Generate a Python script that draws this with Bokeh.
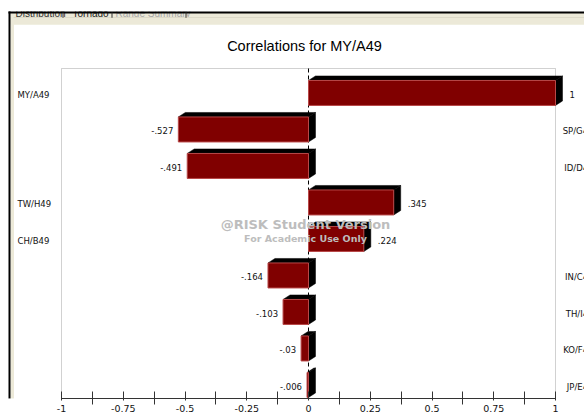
from bokeh.plotting import figure
from bokeh.models import (ColumnDataSource, Range1d, FixedTicker, LabelSet,
                          BoxAnnotation)
from bokeh.core.properties import value
from bokeh.embed import file_html
from bokeh.resources import INLINE

# Inputs correlated with the output, ordered by strength of correlation
INPUT_NAMES = ["MY/A49", "SP/G49", "ID/D49", "TW/H49", "CH/B49",
               "IN/C49", "TH/I49", "KO/F49", "JP/E49"]
CORRELATIONS = [1.0, -0.527, -0.491, 0.345, 0.224, -0.164, -0.103, -0.03, -0.006]
OUTPUT_NAME = "MY/A49"

TICKS = [-1, -0.75, -0.5, -0.25, 0, 0.25, 0.5, 0.75, 1]
TICK_LABELS = ["-1", "-0.75", "-0.5", "-0.25", "0", "0.25", "0.5", "0.75", "1"]
MINOR_TICKS = [-0.875, -0.625, -0.375, -0.125, 0.125, 0.375, 0.625, 0.875]

TAB_NAMES = ["Distribution", "Tornado", "Range Summary"]

# ---- geometry (canvas pixels) ----
W, H = 584, 420
PL, PR, PT, PB = 61, 555, 68, 398          # edges of the chart box
X0, X1 = -1.0, 1.0                         # correlation scale across the box
ROW_PX = 36.5                              # pixel pitch of one category row
Y_TOP = -0.67                              # row coordinate at the box top


def cx(px):
    return X0 + (px - PL) * (X1 - X0) / (PR - PL)


def cy(py):
    return Y_TOP + (py - PT) / ROW_PX


def dx(px):
    return px * (X1 - X0) / (PR - PL)


def dy(py):
    return py / ROW_PX


def fmt(v):
    s = f"{v:.3f}".rstrip("0").rstrip(".")
    return s.replace("0.", ".", 1) if abs(v) < 1 else s


# the data frame spans the whole canvas above the axis, so that the side
# labels, the title and the window strip can be drawn in data space
p = figure(width=W, height=H, output_backend="svg", toolbar_location=None,
           x_range=Range1d(cx(0), cx(W)), y_range=Range1d(cy(PB), cy(0)),
           y_axis_location=None, min_border=0, min_border_left=0,
           min_border_right=0, min_border_top=0, min_border_bottom=H - PB)
p.xgrid.visible = False
p.ygrid.visible = False
p.background_fill_color = "white"
p.border_fill_color = "white"
p.outline_line_color = None

ax = p.xaxis[0]
ax.bounds = (X0, X1)
ax.ticker = FixedTicker(ticks=TICKS, minor_ticks=MINOR_TICKS)
ax.major_label_overrides = {t: s for t, s in zip(TICKS, TICK_LABELS)}
ax.axis_line_color = "#333333"
ax.major_tick_line_color = "#333333"
ax.minor_tick_line_color = "#333333"
ax.major_tick_in = 7
ax.major_tick_out = 2
ax.minor_tick_in = 7
ax.minor_tick_out = 6
ax.major_label_standoff = 0
ax.major_label_text_font = "DejaVu Sans"
ax.major_label_text_font_size = "9.5px"
ax.major_label_text_color = "#111111"

box_top, box_bottom = cy(PT), cy(PB)


def box(l, r, t, b, color, level="overlay"):
    p.add_layout(BoxAnnotation(left=cx(l), right=cx(r), top=cy(t), bottom=cy(b),
                               fill_color=color, fill_alpha=1.0,
                               line_color=None, level=level))


def canvas_box(l, r, t, b, color):
    p.add_layout(BoxAnnotation(left=l, right=r, top=t, bottom=b,
                               left_units="canvas", right_units="canvas",
                               top_units="canvas", bottom_units="canvas",
                               fill_color=color, fill_alpha=1.0,
                               line_color=None, level="overlay"))


def text_at(px, py, text, font, size, color, align="left", style="normal",
            level="annotation"):
    src = ColumnDataSource(dict(x=[cx(px)], y=[cy(py)], t=[text]))
    p.add_layout(LabelSet(x="x", y="y", text="t", source=src, level=level,
                          text_font=value(font), text_font_size=value(size),
                          text_font_style=value(style), text_color=value(color),
                          text_align=value(align), text_baseline=value("alphabetic")))


# window background strips (beneath everything)
box(10, W, 12, 24, "#ece9d8", level="underlay")
box(10, 13.5, 12, PB, "#ece9d8", level="underlay")

# chart box
p.add_layout(BoxAnnotation(left=X0, right=X1, top=box_top, bottom=box_bottom,
                           fill_color=None, line_color="#666666", line_width=1,
                           level="underlay"))
# dashed zero line behind the bars
p.segment(x0=[0], y0=[box_top], x1=[0], y1=[box_bottom], line_color="black",
          line_dash="4 3", line_width=1)

# ---- 3-D bars ----
rows = list(range(len(CORRELATIONS)))
half = dy(12.5)
ddx, ddy = dx(7), dy(4.5)
left = [min(0.0, v) for v in CORRELATIONS]
right = [max(0.0, v) for v in CORRELATIONS]
top = [r - half for r in rows]
bottom = [r + half for r in rows]

top_xs = [[l, r, r + ddx, l + ddx] for l, r in zip(left, right)]
top_ys = [[t, t, t - ddy, t - ddy] for t in top]
side_xs = [[r, r + ddx, r + ddx, r] for r in right]
side_ys = [[t, t - ddy, b - ddy, b] for t, b in zip(top, bottom)]

p.patches(xs=top_xs, ys=top_ys, fill_color="black", line_color="black", line_width=0.5)
p.patches(xs=side_xs, ys=side_ys, fill_color="black", line_color="black", line_width=0.5)
p.quad(left=left, right=right, top=top, bottom=bottom,
       fill_color="#800000", line_color="#b84848", line_width=1)

# ---- value labels and input names ----
base = dy(4.8)
pos = [i for i, v in enumerate(CORRELATIONS) if v > 0]
neg = [i for i, v in enumerate(CORRELATIONS) if v <= 0]

pos_src = ColumnDataSource(dict(
    x=[CORRELATIONS[i] for i in pos],
    y=[i + base for i in pos],
    t=[fmt(CORRELATIONS[i]) for i in pos],
    nx=[cx(17)] * len(pos),
    n=[INPUT_NAMES[i] for i in pos]))
neg_src = ColumnDataSource(dict(
    x=[CORRELATIONS[i] for i in neg],
    y=[i + base for i in neg],
    t=[fmt(CORRELATIONS[i]) for i in neg],
    nx=[cx(593)] * len(neg),
    n=[INPUT_NAMES[i] for i in neg]))

common = dict(text_font=value("DejaVu Sans"), text_font_size=value("8.5px"),
              text_color=value("#111111"), text_baseline=value("alphabetic"))
p.add_layout(LabelSet(x="x", y="y", text="t", source=pos_src, x_offset=14,
                      text_align=value("left"), **common))
p.add_layout(LabelSet(x="x", y="y", text="t", source=neg_src, x_offset=-5,
                      text_align=value("right"), **common))
# names sit on the side away from each bar
p.add_layout(LabelSet(x="nx", y="y", text="n", source=pos_src,
                      text_align=value("left"), **common))
p.add_layout(LabelSet(x="nx", y="y", text="n", source=neg_src,
                      text_align=value("right"), **common))

# ---- title ----
text_at(304, 50.3, f"Correlations for {OUTPUT_NAME}", "Liberation Sans", "14.5px",
        "black", align="center")

# ---- watermark ----
text_at(305, 228.3, "@RISK Student Version", "DejaVu Sans", "13px", "#bdbdbd",
        align="center", style="bold")
text_at(305, 241.7, "For Academic Use Only", "DejaVu Sans", "9.5px", "#bdbdbd",
        align="center", style="bold")

# ---- tab captions: scrolled up, only their lower half shows ----
tab_x = [15, 72, 115]
tab_colors = ["#333333", "#222222", "#a8a8a8"]
for name, x, c in zip(TAB_NAMES, tab_x, tab_colors):
    text_at(x, 16.7, name, "Liberation Sans", "10px", c)

# window edges, drawn over the tab captions
box(0, W, 0, 11, "white")
box(8, W, 11, 13, "black")
box(10, W, 16.5, 24, "#ece9d8")
box(13, W, 16.5, 17.3, "#d8d4c4")
for x in [62, 111, 185]:
    box(x, x + 1, 12, 17.3, "#333333")
box(8, 10, 11, PB, "black")
canvas_box(10, 13.5, PB, H, "#ece9d8")
canvas_box(8, 10, PB, H, "black")

open("out.html", "w").write(file_html(p, INLINE))
